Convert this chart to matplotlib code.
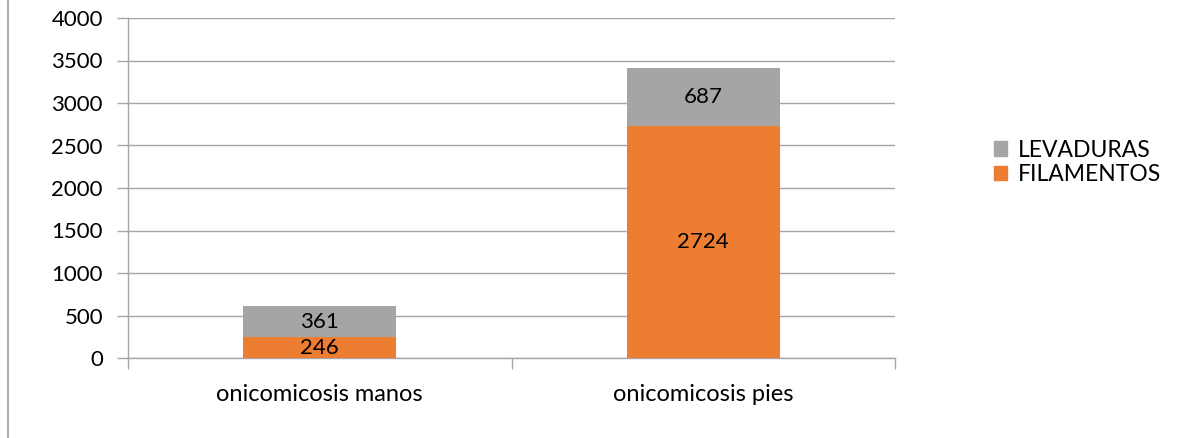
import matplotlib.pyplot as plt
import numpy as np
from matplotlib.lines import Line2D
from matplotlib.patches import Patch

categories = ['onicomicosis manos', 'onicomicosis pies']
filamentos = [246, 2724]
levaduras = [361, 687]
yticks = [0, 500, 1000, 1500, 2000, 2500, 3000, 3500, 4000]

orange = '#ED7D31'
grey = '#A5A5A5'
line_col = '#A6A6A6'

plt.rcParams['font.family'] = ['Lato', 'DejaVu Sans']

fig = plt.figure(figsize=(11.78, 4.38), dpi=100)
ax = fig.add_axes([128 / 1178, 1 - 358 / 438, (895 - 128) / 1178, (358 - 18) / 438])

x = np.arange(len(categories))
b1 = ax.bar(x, filamentos, width=0.4, color=orange, label='FILAMENTOS', zorder=3)
b2 = ax.bar(x, levaduras, width=0.4, bottom=filamentos, color=grey, label='LEVADURAS', zorder=3)

# value labels in the middle of each segment
for bars, vals, bottoms in [(b1, filamentos, [0, 0]), (b2, levaduras, filamentos)]:
    for rect, v, b in zip(bars, vals, bottoms):
        ax.text(rect.get_x() + rect.get_width() / 2, b + v / 2, str(v),
                ha='center', va='center', fontsize=16, color='black', zorder=4)

ax.set_xlim(-0.5, 1.5)
ax.set_ylim(0, 4000)
ax.set_yticks(yticks)
ax.set_yticklabels([str(t) for t in yticks], fontsize=16)
ax.yaxis.grid(True, color=line_col, linewidth=1, zorder=0)
ax.tick_params(axis='y', length=8, color=line_col, width=1, pad=10)

# category boundary ticks
ax.set_xticks([-0.5, 0.5, 1.5])
ax.set_xticklabels(['', '', ''])
ax.tick_params(axis='x', length=8, color=line_col, width=1)
ax.set_xticks(x, minor=True)
ax.set_xticklabels(categories, minor=True, fontsize=17)
ax.tick_params(axis='x', which='minor', length=0, pad=19)

for s in ['top', 'right']:
    ax.spines[s].set_visible(False)
for s in ['left', 'bottom']:
    ax.spines[s].set_color(line_col)
    ax.spines[s].set_linewidth(1)

handles = [Patch(color=grey), Patch(color=orange)]
fig.legend(handles, ['LEVADURAS', 'FILAMENTOS'], loc='center left',
           bbox_to_anchor=(973 / 1178, 1 - 162.5 / 438), frameon=False, fontsize=16.5,
           handlelength=0.6, handleheight=0.6, handletextpad=0.45, labelspacing=0.15)

# border line on the left edge
fig.add_artist(Line2D([7.5 / 1178, 7.5 / 1178], [0, 1], color='#B0B0B0', linewidth=1.5,
                      transform=fig.transFigure))

fig.savefig('out.png', dpi=100)
